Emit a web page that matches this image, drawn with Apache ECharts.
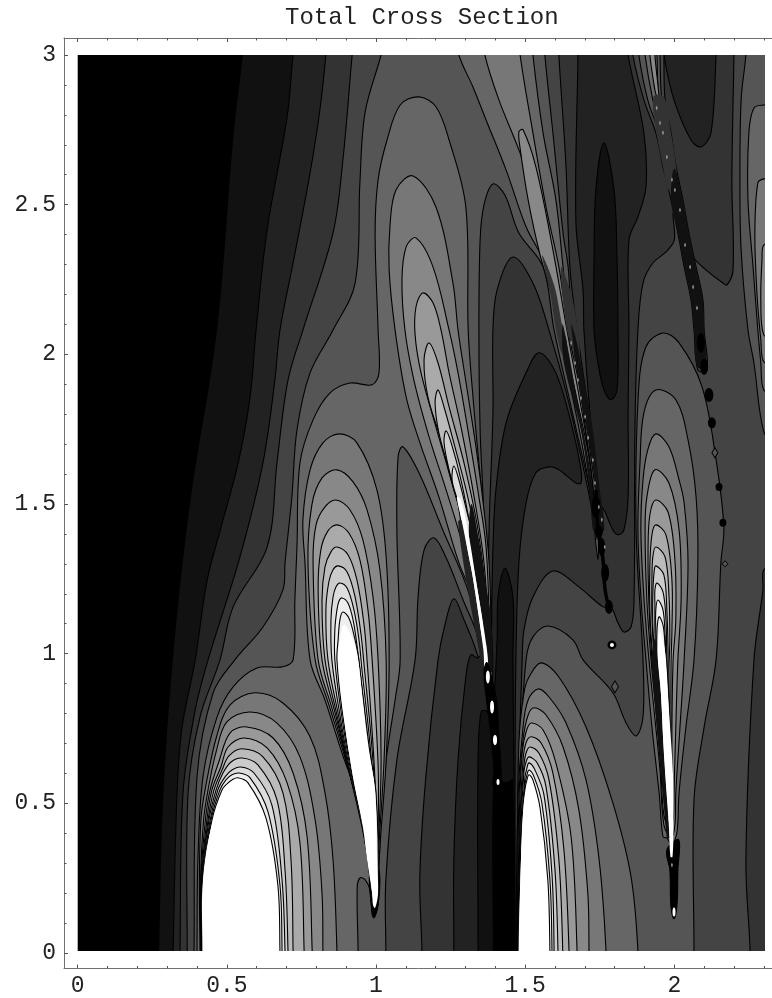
<!DOCTYPE html>
<html><head><meta charset="utf-8">
<style>html,body{margin:0;padding:0;background:#fff}#c{width:772px;height:998px}</style>
<script src="https://cdn.jsdelivr.net/npm/echarts@6/dist/echarts.min.js"></script>
</head><body><div id="c"></div>
<script>
const titleText='Total Cross Section';
const xMajor=[0,0.5,1,1.5,2];
const yMajor=[0,0.5,1,1.5,2,2.5,3];
const xMinor=[0.1,0.2,0.3,0.4,0.6,0.7,0.8,0.9,1.1,1.2,1.3,1.4,1.6,1.7,1.8,1.9,2.1,2.2,2.3];
const yMinor=[0.1,0.2,0.3,0.4,0.6,0.7,0.8,0.9,1.1,1.2,1.3,1.4,1.6,1.7,1.8,1.9,2.1,2.2,2.3,2.4,2.6,2.7,2.8,2.9];
const grays=['#000','#111','#222','#333','#444','#555','#666','#777','#888','#999','#aaa','#bbb','#ccc','#ddd','#eee','#fff'];
const farRight=[[3,-.5],[3,3.5]];
// contour traces, in data units [x, y]
const c1=[[.565,3.1],[.554,3],[.521,2.716],[.467,2.081],[.376,1.497],[.319,.979],[.286,.501],[.273,.007],[.27,-.1]];
const c2=[[.735,3.1],[.722,3],[.702,2.793],[.635,2.416],[.598,2.081],[.578,1.858],[.538,1.637],[.478,1.413],[.434,1.246],[.394,.979],[.35,.755],[.333,.534],[.32,.007],[.32,-.1]];
const c3=[[.84,3.1],[.832,3],[.812,2.817],[.779,2.606],[.722,2.305],[.678,2.081],[.661,1.914],[.621,1.637],[.544,1.323],[.437,.979],[.394,.812],[.353,.534],[.343,.007],[.343,-.1]];
const c4=[[.93,3.1],[.92,3],[.889,2.649],[.856,2.406],[.755,2.081],[.705,1.914],[.668,1.637],[.635,1.356],[.521,1.156],[.477,.979],[.41,.788],[.37,.534],[.367,.007],[.367,-.1]];
const c5=[[1.04,3.1],[1.017,3],[.963,2.806],[.946,2.573],[.93,2.238],[.856,2.081],[.779,1.938],[.735,1.747],[.718,1.524],[.695,1.303],[.688,1.213],[.621,1.089],[.527,.979],[.454,.869],[.4,.588],[.39,.007],[.39,-.1]];
const w4=[[1.033,-.157],[1.033,.007],[1.033,.244],[1.07,.645],[1.131,.979],[1.141,1.189],[1.161,1.346],[1.194,1.387],[1.234,1.323],[1.292,1.179],[1.345,1.046],[1.399,.778],[1.372,1.179],[1.359,1.523],[1.349,1.747],[1.345,2.081],[1.349,2.382],[1.362,2.499],[1.392,2.569],[1.432,2.532],[1.479,2.405],[1.56,2.292],[1.597,2.081],[1.664,1.781],[1.724,1.513],[1.751,1.363],[1.731,1.637],[1.704,1.858],[1.66,2.081],[1.644,2.292],[1.627,2.405],[1.593,2.74],[1.566,3],[1.566,3.05],[2.24,3.05],[2.24,3],[2.224,2.85],[2.22,2.583],[2.224,2.349],[2.247,2.081],[2.267,1.971],[2.3,1.741],[2.337,1.714],[2.42,1.714],[2.42,-.157],[2.066,-.157],[2.066,.007],[2.066,.511],[2.1,.755],[2.14,.979],[2.156,1.303],[2.166,1.423],[2.14,1.647],[2.093,1.891],[2.016,2.038],[1.962,2.071],[1.905,2.025],[1.879,1.858],[1.872,1.413],[1.895,.979],[1.895,.788],[1.872,.725],[1.838,.769],[1.794,.869],[1.694,.979],[1.66,1.046],[1.577,1.092],[1.526,1.056],[1.503,.979],[1.483,.645],[1.473,.177],[1.471,.007],[1.471,-.157]];
const w3=[[1.154,-.157],[1.154,.007],[1.147,.254],[1.167,.588],[1.208,.979],[1.231,1.096],[1.261,1.183],[1.295,1.113],[1.335,1.012],[1.382,.845],[1.406,.645],[1.379,1.189],[1.379,1.413],[1.392,1.804],[1.392,2.081],[1.406,2.215],[1.459,2.325],[1.526,2.238],[1.58,2.081],[1.644,1.848],[1.704,1.58],[1.751,1.363],[1.741,1.637],[1.714,1.804],[1.674,2.081],[1.65,2.292],[1.637,2.626],[1.613,3],[1.613,3.05],[2.2,3.05],[2.2,3],[2.193,2.583],[2.197,2.282],[2.177,2.232],[2.163,2.238],[2.106,2.282],[2.063,2.325],[2.023,2.405],[1.996,2.472],[2.0,2.382],[1.972,2.342],[1.928,2.305],[1.895,2.238],[1.878,2.081],[1.868,1.747],[1.865,1.179],[1.855,1.089],[1.831,1.072],[1.811,1.103],[1.794,1.146],[1.781,1.156],[1.761,1.156],[1.68,1.223],[1.593,1.276],[1.526,1.189],[1.496,1.079],[1.49,.979],[1.476,.511],[1.469,.007],[1.469,-.157]];
const w2a=[[1.261,-.157],[1.261,.007],[1.261,.311],[1.275,.645],[1.301,.922],[1.318,.996],[1.342,.986],[1.382,1.046],[1.388,1.179],[1.392,1.356],[1.402,1.547],[1.436,1.771],[1.503,1.938],[1.547,2.005],[1.603,1.938],[1.66,1.747],[1.687,1.614],[1.687,1.57],[1.67,1.57],[1.613,1.614],[1.58,1.624],[1.536,1.604],[1.503,1.503],[1.479,1.303],[1.469,.979],[1.466,.511],[1.467,.007],[1.467,-.157]];
const w2b=[[1.677,3.05],[1.677,3],[1.67,2.442],[1.694,2.215],[1.697,2.081],[1.717,1.804],[1.741,1.58],[1.754,1.497],[1.768,1.473],[1.794,1.413],[1.811,1.397],[1.831,1.413],[1.845,1.523],[1.845,1.804],[1.848,2.081],[1.848,2.382],[1.878,2.459],[1.905,2.559],[1.898,2.74],[1.845,3],[1.845,3.05]];
const lobeTop=[[1.764,2.706],[1.798,2.549],[1.808,2.315],[1.811,2.081],[1.808,1.881],[1.788,1.848],[1.764,1.881],[1.744,1.971],[1.731,2.081],[1.731,2.315],[1.737,2.549]];
const w1=[[1.342,-.157],[1.342,.007],[1.342,.645],[1.352,.805],[1.369,.809],[1.389,.795],[1.406,1.046],[1.409,1.189],[1.432,1.286],[1.459,1.189],[1.459,.979],[1.463,.511],[1.465,.007],[1.465,-.157]];
const w0=[[1.392,-.157],[1.392,.007],[1.392,.545],[1.409,.578],[1.436,.571],[1.459,.578],[1.463,.007],[1.463,-.157]];
const channel=[[1.362,.94],[1.369,.855],[1.379,.778],[1.389,.688],[1.396,.601],[1.392,.561],[1.419,.534],[1.419,.611],[1.412,.722],[1.405,.835],[1.39,.912],[1.372,.97]];
const pocketL2=[[1.965,3.05],[1.965,3],[1.999,2.85],[2.056,2.716],[2.09,2.693],[2.123,2.74],[2.14,3],[2.14,3.05]];
const cornerL3=[[2.337,1.28],[2.3,1.28],[2.297,1.213],[2.267,.979],[2.24,.311],[2.254,.007],[2.254,-.157],[2.337,-.157]];
const edgeL6=[[2.337,2.833],[2.3,2.833],[2.267,2.823],[2.25,2.74],[2.247,2.516],[2.264,2.292],[2.28,2.081],[2.29,1.971],[2.3,1.881],[2.337,1.881]];
const edgeL7=[[2.337,2.586],[2.3,2.586],[2.28,2.573],[2.27,2.406],[2.277,2.205],[2.29,2.048],[2.3,1.975],[2.337,1.975]];
const edgeL8=[[2.337,2.365],[2.3,2.365],[2.294,2.315],[2.29,2.182],[2.3,2.065],[2.337,2.065]];
const domeL6=[[.4,-.1],[.4,.007],[.403,.311],[.42,.588],[.467,.788],[.521,.889],[.601,.952],[.688,.956],[.722,.979],[.728,1.179],[.735,1.356],[.745,1.637],[.789,1.781],[.846,1.871],[.913,1.904],[.987,1.898],[1.01,1.938],[1.007,2.081],[.997,2.406],[1.007,2.583],[1.037,2.716],[1.081,2.833],[1.144,2.86],[1.201,2.827],[1.245,2.716],[1.301,2.493],[1.309,2.081],[1.325,1.858],[1.345,1.637],[1.368,1.39],[1.381,1.179],[1.391,.979],[1.385,.879],[1.348,1.012],[1.311,1.203],[1.224,1.413],[1.144,1.604],[1.09,1.691],[1.074,1.658],[1.07,1.413],[1.081,.979],[1.064,.845],[1.034,.645],[1.017,.444],[1.01,.277],[1.007,.16],[.99,.12],[.984,.167],[.98,.21],[.964,.244],[.947,.251],[.937,.22],[.94,.007],[.94,-.1]];
const aL7=[[.41,-.1],[.41,.007],[.408,.244],[.413,.444],[.427,.545],[.467,.728],[.511,.829],[.594,.869],[.688,.835],[.779,.722],[.829,.535],[.856,.311],[.869,.007],[.869,-.1]];
const aL8=[[.412,-.1],[.412,.007],[.412,.244],[.422,.444],[.437,.545],[.464,.672],[.5,.772],[.578,.805],[.668,.768],[.745,.655],[.796,.444],[.819,.2],[.822,.007],[.822,-.1]];
const aL9=[[.413,-.1],[.413,.007],[.413,.244],[.428,.444],[.444,.545],[.473,.638],[.511,.735],[.567,.755],[.655,.718],[.722,.601],[.769,.388],[.786,.007],[.786,-.1]];
const aL10=[[.414,-.1],[.414,.007],[.415,.244],[.433,.444],[.45,.545],[.48,.621],[.504,.688],[.557,.718],[.635,.685],[.702,.568],[.745,.368],[.759,.007],[.759,-.1]];
const aL11=[[.415,-.1],[.415,.007],[.416,.244],[.437,.444],[.457,.545],[.484,.611],[.507,.658],[.551,.682],[.621,.655],[.688,.535],[.715,.311],[.722,.007],[.722,-.1]];
const aL12=[[.416,-.1],[.416,.007],[.417,.244],[.44,.444],[.464,.545],[.487,.601],[.514,.638],[.551,.651],[.604,.628],[.668,.511],[.695,.277],[.705,.007],[.705,-.1]];
const aL13=[[.417,-.1],[.417,.007],[.418,.244],[.444,.444],[.47,.545],[.494,.588],[.517,.611],[.547,.621],[.591,.601],[.651,.494],[.685,.244],[.695,.007],[.695,-.1]];
const aL14=[[.417,-.1],[.417,.007],[.419,.244],[.447,.444],[.477,.545],[.497,.578],[.517,.595],[.541,.601],[.578,.585],[.638,.471],[.678,.227],[.685,.007],[.685,-.1]];
const aL15=[[.418,-.1],[.418,.007],[.419,.244],[.45,.444],[.484,.545],[.504,.568],[.517,.578],[.537,.585],[.571,.568],[.631,.451],[.671,.227],[.678,.007],[.678,-.1]];
const aWhite=[[.418,-.1],[.418,.007],[.42,.244],[.454,.444],[.5,.535],[.534,.555],[.578,.535],[.621,.444],[.655,.254],[.671,.007],[.671,-.1]];
const bTip=[[.98,.277],[1.01,.277],[1.007,.16],[.993,.117],[.984,.16]];
const bL7=[[.876,1.734],[.936,1.704],[1.003,1.547],[1.034,1.323],[1.044,.979],[1.034,.645],[1.017,.411],[1.007,.294],[.987,.227],[.963,.378],[.94,.511],[.886,.668],[.829,.845],[.779,.979],[.762,1.303],[.755,1.447],[.779,1.614],[.822,1.704]];
const bL8=[[.869,1.614],[.923,1.574],[.97,1.48],[1.013,1.28],[1.034,.979],[1.027,.645],[1.013,.411],[1.003,.277],[.99,.21],[.966,.361],[.94,.494],[.893,.662],[.842,.829],[.796,.979],[.772,1.303],[.785,1.497],[.819,1.587]];
const bL9=[[.866,1.513],[.913,1.48],[.956,1.38],[.99,1.189],[1.007,.979],[1.017,.645],[1.01,.411],[1.0,.261],[.993,.194],[.97,.344],[.943,.478],[.899,.651],[.852,.819],[.806,.979],[.789,1.303],[.799,1.43],[.829,1.49]];
const bL10=[[.869,1.43],[.909,1.403],[.946,1.313],[.973,1.146],[.987,.979],[1.007,.628],[1.007,.411],[1.0,.244],[.993,.177],[.973,.327],[.946,.461],[.906,.628],[.862,.805],[.819,.979],[.806,1.213],[.815,1.346],[.839,1.41]];
const bL11=[[.869,1.356],[.906,1.33],[.936,1.246],[.96,1.096],[.97,.979],[.993,.645],[1.003,.411],[1.0,.227],[.993,.167],[.973,.317],[.95,.444],[.909,.611],[.869,.795],[.829,.979],[.819,1.179],[.829,1.29],[.849,1.34]];
const bL12=[[.873,1.293],[.903,1.273],[.93,1.189],[.95,1.062],[.96,.962],[.987,.678],[1.003,.411],[1.0,.217],[.993,.16],[.973,.311],[.953,.428],[.913,.595],[.876,.785],[.839,.979],[.832,1.146],[.842,1.24],[.856,1.28]];
const bL13=[[.879,1.236],[.903,1.219],[.926,1.146],[.943,1.046],[.953,.945],[.98,.695],[1.0,.411],[1.0,.21],[.993,.157],[.973,.311],[.953,.421],[.916,.588],[.879,.795],[.852,.979],[.849,1.113],[.856,1.189],[.866,1.223]];
const bL14=[[.886,1.186],[.906,1.169],[.923,1.113],[.936,1.029],[.95,.912],[.976,.695],[1.0,.511],[1.003,.21],[.993,.154],[.973,.311],[.956,.421],[.919,.588],[.883,.805],[.862,.979],[.862,1.079],[.869,1.146],[.876,1.176]];
const bL15=[[.889,1.139],[.909,1.119],[.926,1.062],[.94,.996],[.95,.912],[.973,.702],[1.0,.535],[1.007,.21],[.993,.154],[.973,.311],[.956,.421],[.921,.588],[.886,.812],[.869,.979],[.873,1.046],[.879,1.113]];
const bWhite=[[.893,1.096],[.923,1.046],[.94,.979],[.953,.868],[.973,.702],[.997,.535],[1.003,.311],[1.007,.2],[.997,.15],[.99,.16],[.987,.2],[.97,.311],[.956,.421],[.923,.588],[.889,.812],[.873,.979],[.879,1.046]];
const cL7=[[1.124,2.596],[1.201,2.492],[1.258,2.238],[1.275,2.081],[1.302,1.904],[1.335,1.691],[1.362,1.48],[1.379,1.303],[1.385,1.046],[1.375,.945],[1.342,1.096],[1.325,1.189],[1.278,1.303],[1.211,1.523],[1.144,1.714],[1.101,1.858],[1.064,2.081],[1.044,2.282],[1.047,2.432],[1.067,2.549]];
const cL8=[[1.134,2.389],[1.191,2.292],[1.245,2.081],[1.275,1.938],[1.312,1.724],[1.345,1.523],[1.369,1.356],[1.379,1.079],[1.372,.962],[1.342,1.113],[1.292,1.356],[1.235,1.547],[1.178,1.724],[1.127,1.914],[1.097,2.081],[1.087,2.248],[1.101,2.359]];
const cL9=[[1.157,2.205],[1.191,2.172],[1.218,2.081],[1.245,1.938],[1.285,1.757],[1.329,1.523],[1.362,1.303],[1.375,1.079],[1.369,.979],[1.338,1.129],[1.302,1.39],[1.245,1.604],[1.201,1.757],[1.151,1.938],[1.131,2.065],[1.134,2.158]];
const cL10=[[1.178,2.038],[1.208,1.971],[1.245,1.824],[1.295,1.637],[1.342,1.413],[1.369,1.179],[1.369,.996],[1.335,1.146],[1.302,1.413],[1.261,1.547],[1.218,1.714],[1.174,1.858],[1.161,1.981]];
const cL11=[[1.208,1.881],[1.228,1.824],[1.261,1.704],[1.302,1.547],[1.335,1.39],[1.362,1.179],[1.365,1.012],[1.332,1.163],[1.285,1.47],[1.245,1.614],[1.211,1.737],[1.198,1.838]];
const cL12=[[1.235,1.744],[1.252,1.704],[1.285,1.58],[1.318,1.413],[1.356,1.179],[1.365,1.012],[1.329,1.179],[1.275,1.503],[1.245,1.614],[1.228,1.707]];
const cL13=[[1.261,1.627],[1.278,1.58],[1.309,1.457],[1.325,1.39],[1.352,1.179],[1.365,1.012],[1.325,1.189],[1.292,1.38],[1.275,1.503],[1.255,1.58]];
const cBandLeft=[[1.275,1.44],[1.31,1.2],[1.345,1.012],[1.352,.94],[1.365,.94],[1.36,1.012],[1.326,1.246],[1.31,1.33],[1.287,1.447]];
const cBandRight=[[1.312,1.39],[1.335,1.246],[1.372,1.012],[1.375,.939],[1.39,.939],[1.385,1.12],[1.365,1.25],[1.345,1.38],[1.32,1.5]];
const cWhite=[[1.271,1.523],[1.285,1.513],[1.312,1.39],[1.335,1.246],[1.372,1.012],[1.375,.939],[1.365,.939],[1.36,1.012],[1.326,1.246],[1.31,1.33],[1.287,1.447]];
const dRidgeL6=[[1.278,3.05],[1.278,3],[1.325,2.893],[1.369,2.783],[1.436,2.616],[1.503,2.426],[1.57,2.292],[1.61,2.081],[1.654,1.881],[1.694,1.681],[1.724,1.49],[1.744,1.313],[1.741,1.49],[1.717,1.681],[1.69,1.881],[1.65,2.081],[1.627,2.292],[1.603,2.516],[1.56,2.74],[1.526,3],[1.526,3.05]];
const dRidgeL7=[[1.365,3.05],[1.365,3],[1.412,2.85],[1.479,2.683],[1.536,2.516],[1.58,2.349],[1.62,2.081],[1.664,1.881],[1.701,1.681],[1.727,1.49],[1.741,1.38],[1.734,1.49],[1.711,1.681],[1.684,1.881],[1.644,2.081],[1.613,2.292],[1.57,2.492],[1.526,2.74],[1.483,3],[1.483,3.05]];
const dRidgeL8=[[1.479,2.743],[1.493,2.75],[1.536,2.626],[1.593,2.349],[1.64,2.081],[1.677,1.881],[1.717,1.647],[1.734,1.48],[1.731,1.447],[1.721,1.614],[1.667,1.881],[1.623,2.081],[1.59,2.198],[1.55,2.332],[1.51,2.516],[1.483,2.689]];
const dBandLeftUpper=[[1.557,2.33],[1.585,2.2],[1.603,2.081],[1.625,2.0],[1.64,2.038],[1.627,2.081],[1.597,2.232]];
const dBandRightUpper=[[1.62,2.29],[1.64,2.081],[1.654,2.038],[1.665,2.0],[1.682,2.0],[1.677,2.081],[1.655,2.2]];
const dBandLeft=[[1.625,2.1],[1.63,1.971],[1.687,1.747],[1.714,1.57],[1.727,1.413],[1.737,1.413],[1.724,1.57],[1.699,1.721],[1.674,1.848],[1.64,2.038]];
const dBandRight=[[1.654,2.1],[1.687,1.848],[1.711,1.721],[1.734,1.57],[1.741,1.413],[1.765,1.413],[1.747,1.57],[1.727,1.747],[1.687,1.971],[1.668,2.06]];
const dDomeL6=[[1.472,-.157],[1.472,.007],[1.473,.177],[1.479,.702],[1.496,.869],[1.513,.922],[1.553,.969],[1.613,.922],[1.704,.755],[1.794,.501],[1.855,.254],[1.878,.007],[1.878,-.157]];
const dDomeL7=[[1.473,-.157],[1.473,.007],[1.476,.511],[1.493,.755],[1.51,.845],[1.543,.882],[1.58,.855],[1.637,.768],[1.704,.578],[1.748,.311],[1.771,.007],[1.771,-.157]];
const dDomeL8=[[1.474,-.157],[1.474,.007],[1.479,.511],[1.493,.712],[1.51,.795],[1.53,.819],[1.57,.795],[1.627,.688],[1.68,.478],[1.71,.2],[1.714,.007],[1.714,-.157]];
const dDomeL9=[[1.4745,-.157],[1.4745,.007],[1.481,.478],[1.49,.668],[1.503,.738],[1.52,.768],[1.56,.745],[1.603,.635],[1.654,.388],[1.674,.007],[1.674,-.157]];
const dDomeL10=[[1.475,-.157],[1.475,.007],[1.483,.444],[1.493,.645],[1.503,.702],[1.52,.722],[1.553,.702],[1.593,.601],[1.63,.344],[1.647,.007],[1.647,-.157]];
const dDomeL11=[[1.4755,-.157],[1.4755,.007],[1.484,.444],[1.496,.628],[1.503,.668],[1.516,.688],[1.546,.668],[1.58,.578],[1.613,.311],[1.626,.007],[1.626,-.157]];
const dDomeL12=[[1.476,-.157],[1.476,.007],[1.486,.428],[1.496,.605],[1.503,.638],[1.513,.655],[1.54,.635],[1.57,.555],[1.6,.277],[1.61,.007],[1.61,-.157]];
const dDomeL13=[[1.4765,-.157],[1.4765,.007],[1.488,.411],[1.499,.585],[1.506,.618],[1.513,.635],[1.533,.611],[1.563,.528],[1.59,.261],[1.597,.007],[1.597,-.157]];
const dDomeL14=[[1.477,-.157],[1.477,.007],[1.483,.311],[1.493,.461],[1.499,.561],[1.506,.595],[1.513,.611],[1.53,.588],[1.556,.501],[1.583,.244],[1.59,.007],[1.59,-.157]];
const dDomeL15=[[1.4775,-.157],[1.4775,.007],[1.484,.311],[1.493,.494],[1.499,.545],[1.506,.578],[1.513,.595],[1.526,.578],[1.55,.484],[1.576,.244],[1.583,.007],[1.583,-.157]];
const dWhite=[[1.478,-.157],[1.478,.007],[1.486,.311],[1.496,.501],[1.513,.555],[1.526,.538],[1.543,.478],[1.563,.311],[1.58,.007],[1.58,-.157]];
const eL6=[[1.938,1.881],[2.005,1.848],[2.046,1.714],[2.073,1.523],[2.079,1.303],[2.066,.979],[2.039,.755],[2.016,.535],[2.009,.404],[1.992,.361],[1.975,.384],[1.962,.388],[1.949,.535],[1.925,.755],[1.905,.979],[1.888,1.189],[1.878,1.413],[1.885,1.637],[1.898,1.804]];
const eL7=[[1.938,1.734],[1.982,1.691],[2.016,1.58],[2.033,1.503],[2.046,1.303],[2.033,.979],[2.019,.755],[2.005,.535],[2.002,.428],[1.989,.384],[1.965,.428],[1.952,.611],[1.932,.812],[1.915,.979],[1.898,1.189],[1.888,1.413],[1.895,1.58],[1.911,1.681]];
const eL8=[[1.935,1.614],[1.982,1.57],[2.016,1.413],[2.023,1.189],[2.012,.979],[2.005,.755],[1.999,.535],[1.996,.444],[1.985,.411],[1.965,.461],[1.955,.611],[1.938,.812],[1.922,.979],[1.908,1.179],[1.902,1.413],[1.908,1.523]];
const eL9=[[1.938,1.513],[1.979,1.473],[2.002,1.313],[2.005,1.113],[1.996,.979],[1.992,.755],[1.992,.511],[1.985,.428],[1.969,.478],[1.955,.645],[1.938,.845],[1.925,.979],[1.915,1.163],[1.912,1.346],[1.918,1.463]];
const eL10=[[1.938,1.43],[1.972,1.397],[1.992,1.246],[1.992,1.079],[1.989,.962],[1.989,.745],[1.992,.511],[1.985,.428],[1.972,.478],[1.958,.645],[1.942,.845],[1.928,.979],[1.918,1.146],[1.918,1.296],[1.925,1.397]];
const eL11=[[1.938,1.356],[1.969,1.323],[1.982,1.196],[1.985,1.046],[1.982,.945],[1.985,.745],[1.989,.511],[1.985,.428],[1.972,.478],[1.958,.645],[1.942,.845],[1.932,.979],[1.925,1.129],[1.925,1.246],[1.928,1.323]];
const eL12=[[1.938,1.293],[1.965,1.263],[1.975,1.146],[1.979,1.012],[1.979,.912],[1.985,.712],[1.989,.511],[1.985,.428],[1.972,.478],[1.958,.645],[1.942,.862],[1.935,.979],[1.928,1.096],[1.928,1.196],[1.932,1.27]];
const eL13=[[1.942,1.236],[1.962,1.206],[1.972,1.113],[1.975,.979],[1.979,.879],[1.985,.678],[1.989,.511],[1.985,.428],[1.972,.478],[1.958,.628],[1.945,.862],[1.938,.979],[1.935,1.079],[1.935,1.163],[1.935,1.213]];
const eL14=[[1.945,1.179],[1.962,1.146],[1.969,1.062],[1.972,.979],[1.979,.845],[1.985,.678],[1.989,.511],[1.985,.428],[1.972,.478],[1.962,.611],[1.949,.845],[1.942,.979],[1.938,1.079],[1.938,1.146]];
const eL15=[[1.949,1.123],[1.962,1.096],[1.969,1.029],[1.975,.945],[1.985,.778],[1.992,.545],[1.989,.444],[1.979,.461],[1.962,.678],[1.949,.862],[1.942,.996],[1.942,1.079]];
const eBandLeft=[[1.925,.979],[1.942,.755],[1.962,.535],[1.975,.384],[1.982,.384],[1.982,.421],[1.965,.668],[1.955,.869],[1.945,.979],[1.935,1.05]];
const eWhite=[[1.952,1.072],[1.965,1.029],[1.972,.979],[1.982,.812],[1.996,.588],[1.997,.421],[1.994,.321],[1.987,.321],[1.982,.421],[1.965,.668],[1.955,.869],[1.945,.979],[1.945,1.029]];
const eTip=[[1.975,.344],[2.015,.378],[2.012,.277],[2.009,.16],[1.999,.114],[1.989,.15],[1.985,.277]];
const fL4=[[1.861,3.05],[1.861,3],[1.898,2.85],[1.938,2.74],[1.962,2.626],[1.989,2.516],[2.012,2.405],[2.033,2.292],[2.056,2.182],[2.066,2.081],[2.079,1.948],[2.11,1.948],[2.1,2.081],[2.096,2.182],[2.073,2.292],[2.049,2.405],[2.029,2.516],[2.006,2.626],[1.989,2.74],[1.969,2.85],[1.965,3],[1.965,3.05]];
const fL5=[[1.881,3.05],[1.881,3],[1.911,2.85],[1.948,2.74],[1.969,2.626],[1.989,2.549],[2.009,2.549],[1.979,2.74],[1.958,2.85],[1.952,3],[1.952,3.05]];
const fL6=[[1.902,3.05],[1.902,3],[1.928,2.85],[1.958,2.74],[1.979,2.616],[1.992,2.616],[1.969,2.74],[1.948,2.85],[1.942,3],[1.942,3.05]];
const fL8=[[1.918,3.05],[1.918,3],[1.935,2.883],[1.942,2.857],[1.952,2.823],[1.945,2.9],[1.935,3],[1.935,3.05]];
const fBandUpper=[[1.93,2.86],[1.94,2.74],[1.962,2.626],[1.98,2.55],[2.005,2.55],[2.006,2.626],[1.989,2.74],[1.965,2.86]];
const fBand=[[2.0,2.62],[1.989,2.516],[2.012,2.405],[2.033,2.292],[2.056,2.182],[2.066,2.081],[2.076,1.958],[2.106,1.958],[2.1,2.081],[2.096,2.182],[2.073,2.292],[2.049,2.405],[2.029,2.516]];
// point-like marks
const dLink=[[1.737,1.547],[1.741,1.447],[1.751,1.38],[1.761,1.313],[1.768,1.213],[1.781,1.156]];
const beadsBlack=[[1.737,1.49,9,22],[1.747,1.407,8,12],[1.757,1.356,7,18],[1.768,1.27,8,18],[1.781,1.156,8,14],[2.089,2.038,8,20],[2.1,1.958,8,16],[2.116,1.864,9,14],[2.126,1.771,8,11],[2.15,1.557,7,8],[2.163,1.437,7,8],[1.791,1.029,9,9]];
const beadsHollow=[[2.136,1.671,6,10],[2.17,1.3,6,6],[1.801,.889,7,12]];
const dotsWhite=[[1.375,.922,4,13],[1.389,.822,4,13],[1.399,.711,4,10],[1.409,.571,3,6],[1.791,1.029,4,4],[1.999,.137,3,9]];
const specksLight=[[1.654,2.038],[1.667,1.971],[1.677,1.914],[1.687,1.854],[1.701,1.791],[1.711,1.721],[1.727,1.647],[1.734,1.57],[1.747,1.49],[1.757,1.447],[1.767,1.356],[1.941,2.823],[1.952,2.773],[1.962,2.74],[1.975,2.659],[1.992,2.583],[2.002,2.549],[2.019,2.482],[2.036,2.365],[2.053,2.292],[2.063,2.225],[2.076,2.155],[1.992,.294]];
const layers=[
 [c1.concat(farRight),1,false],[c2.concat(farRight),2,true],[c3.concat(farRight),3,true],[c4.concat(farRight),4,true],[c5.concat(farRight),5,true],
 [w4,4,true],[w3,3,true],[w2a,2,true],[w2b,2,true],[lobeTop,1,true],[w1,1,true],[w0,0,false],
 [pocketL2,2,true],[cornerL3,3,true],[edgeL6,6,true],[edgeL7,7,true],[edgeL8,8,true],
 [domeL6,6,true],
 [aL7,7,true],[aL8,8,true],[aL9,9,true],[aL10,10,true],[aL11,11,true],[aL12,12,true],[aL13,13,true],[aL14,14,true],[aL15,15,true],[aWhite,15,false],
 [dDomeL6,6,true],[dDomeL7,7,true],[dDomeL8,8,true],[dDomeL9,9,true],[dDomeL10,10,true],[dDomeL11,11,true],[dDomeL12,12,true],[dDomeL13,13,true],[dDomeL14,14,true],[dDomeL15,15,true],[dWhite,15,false],
 [eL6,6,true],[eL7,7,true],[eL8,8,true],[eL9,9,true],[eL10,10,true],[eL11,11,true],[eL12,12,true],[eL13,13,true],[eL14,14,true],[eL15,14,true],[eBandLeft,1,false],[eTip,0,true],[eWhite,15,false],
 [bTip,0,true],[bL7,7,true],[bL8,8,true],[bL9,9,true],[bL10,10,true],[bL11,11,true],[bL12,12,true],[bL13,13,true],[bL14,14,true],[bL15,14,true],[bWhite,15,false],
 [dRidgeL6,6,true],[dRidgeL7,7,true],[dRidgeL8,8,true],[dBandLeftUpper,3,false],[dBandRightUpper,3,false],[dBandLeft,1,false],[dBandRight,1,false],
 [cL7,7,true],[cL8,8,true],[cL9,9,true],[cL10,10,true],[cL11,11,true],[cL12,12,true],[cL13,13,true],[cBandLeft,2,false],[cBandRight,1,false],[cWhite,15,false],[channel,0,true],
 [fL4,4,true],[fL5,5,true],[fL6,6,true],[fL8,8,true],[fBandUpper,3,false],[fBand,1,false]
];
const font='"Liberation Mono","DejaVu Sans Mono",monospace';
const frame={color:'#707070',width:1};
const tickLine={color:'#555',width:1};
const xMin=-0.0459,xMax=2.3678,yMin=-0.0518,yMax=3.0568;
function frameX(grid,pos,values,len,labels,line){return {type:'value',gridIndex:grid,position:pos,min:xMin,max:xMax,
 axisLine:{show:line,onZero:false,lineStyle:frame},splitLine:{show:false},
 axisTick:{show:true,inside:true,length:len,customValues:values,lineStyle:tickLine},
 axisLabel:{show:labels,customValues:values,margin:6,color:'#222',fontFamily:font,fontSize:23,formatter:v=>String(v)}};}
function frameY(grid,values,len,labels,line){return {type:'value',gridIndex:grid,position:'left',min:yMin,max:yMax,
 axisLine:{show:line,onZero:false,lineStyle:frame},splitLine:{show:false},
 axisTick:{show:true,inside:true,length:len,customValues:values,lineStyle:tickLine},
 axisLabel:{show:labels,customValues:values,margin:8,color:'#222',fontFamily:font,fontSize:23,formatter:v=>String(v)}};}
const symbolOf=d=>[d[2],d[3]];
const chart=echarts.init(document.getElementById('c'),null,{renderer:'canvas'});
chart.setOption({
 animation:false,backgroundColor:'#fff',
 title:{text:titleText,left:280,top:1,textStyle:{fontFamily:font,fontSize:24,fontWeight:'normal',color:'#222'}},
 grid:[
  {left:64,top:38,width:720,height:930.5,outerBoundsMode:'none'},
  {left:64,top:38,width:720,height:930.5,outerBoundsMode:'none'},
  {left:77.7,top:55,width:686.1,height:895.9,show:true,backgroundColor:'#000',borderWidth:0,outerBoundsMode:'none'}
 ],
 xAxis:[frameX(0,'bottom',xMajor,4,true,true),frameX(0,'top',xMajor,4,false,true),frameX(1,'bottom',xMinor,2.5,false,false),frameX(1,'top',xMinor,2.5,false,false),
  {type:'value',gridIndex:2,min:0,max:2.3,show:false}],
 yAxis:[frameY(0,yMajor,4,true,true),frameY(1,yMinor,2.5,false,false),
  {type:'value',gridIndex:2,min:0.0067,max:3,show:false}],
 series:[
  {type:'custom',coordinateSystem:'cartesian2d',xAxisIndex:4,yAxisIndex:2,clip:true,silent:true,
   data:layers.map((l,i)=>[i,1]),
   renderItem(params,api){
    const L=layers[api.value(0)];
    return {type:'polygon',shape:{points:L[0].map(p=>api.coord(p)),smooth:0.35},
     style:{fill:grays[L[1]],stroke:L[2]?'#000':null,lineWidth:1.1}};
   }},
  {type:'line',xAxisIndex:4,yAxisIndex:2,data:dLink,showSymbol:false,silent:true,smooth:true,lineStyle:{color:'#000',width:3.5},z:3},
  {type:'scatter',xAxisIndex:4,yAxisIndex:2,data:beadsBlack,symbol:'circle',symbolSize:symbolOf,silent:true,itemStyle:{color:'#000',opacity:1},z:4},
  {type:'scatter',xAxisIndex:4,yAxisIndex:2,data:beadsHollow,symbol:'diamond',symbolSize:symbolOf,silent:true,itemStyle:{color:'#555',borderColor:'#000',borderWidth:1,opacity:1},z:4},
  {type:'scatter',xAxisIndex:4,yAxisIndex:2,data:specksLight,symbol:'diamond',symbolSize:[2,5],silent:true,itemStyle:{color:'#999',opacity:1},z:5},
  {type:'scatter',xAxisIndex:4,yAxisIndex:2,data:dotsWhite,symbol:'circle',symbolSize:symbolOf,silent:true,itemStyle:{color:'#fff',opacity:1},z:6}
 ]
});
</script></body></html>
